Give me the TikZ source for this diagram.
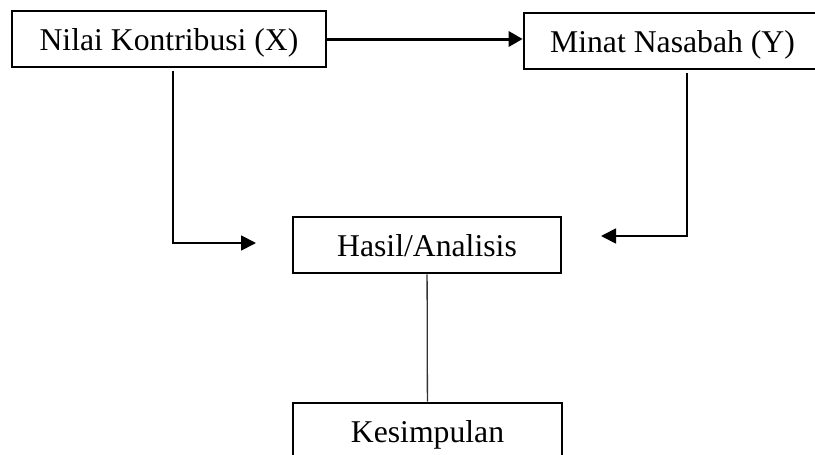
\documentclass[tikz,border=0pt]{standalone}
\usepackage{fontspec}
\setmainfont{Liberation Serif}
\usetikzlibrary{arrows.meta}
\tikzset{kotak/.style={draw, line width=2.6pt, minimum width=#1, minimum height=56pt, inner sep=0pt, text height=23pt, text depth=0pt, font=\fontsize{31.7}{36}\selectfont}}
\tikzset{pipa/.style={-{Triangle[length=15pt,width=15pt]}, line width=1.8pt}}
\begin{document}
\begin{tikzpicture}[x=1pt,y=-1pt]
		\clip (0,0) rectangle (815,455);
		\node[kotak=314pt] (nilai) at (169,39) {Nilai Kontribusi (X)};
		\node[kotak=297pt] (minat) at (672.5,41) {Minat Nasabah (Y)};
		\node[kotak=268pt] (hasil) at (427,245) {Hasil/Analisis};
		\node[kotak=269pt] (simpul) at (427.5,431) {Kesimpulan};
		\coordinate (kiri) at (256,243);
		\coordinate (kanan) at (601,236);
		\draw[-{Triangle[length=14pt,width=15pt]}, line width=3pt] (nilai.east) -- (nilai.east -| minat.west);
		\draw[pipa] ([xshift=4pt,yshift=-3pt]nilai.south) |- (kiri);
		\draw[pipa] ([xshift=14.5pt,yshift=-3pt]minat.south) |- (kanan);
		\draw[line width=1.3pt, black!80] (hasil) -- (simpul);
	\end{tikzpicture}
\end{document}
